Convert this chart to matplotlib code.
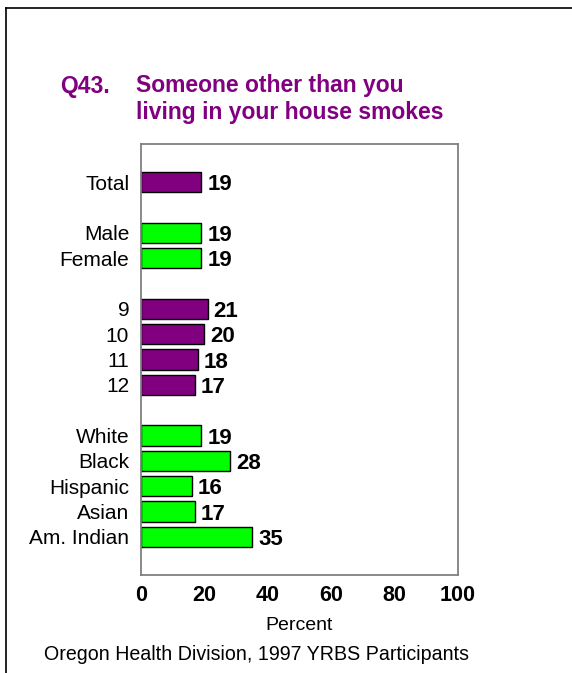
import matplotlib
matplotlib.use("Agg")
import matplotlib.pyplot as plt
from matplotlib.lines import Line2D

plt.rcParams['font.family'] = ['Liberation Sans', 'DejaVu Sans']

# 数据
groups = [
    ["Total"],
    ["Male", "Female"],
    ["9", "10", "11", "12"],
    ["White", "Black", "Hispanic", "Asian", "Am. Indian"],
]
values = [
    [19],
    [19, 19],
    [21, 20, 18, 17],
    [19, 28, 16, 17, 35],
]
group_colors = ["#800080", "#00FF00", "#800080", "#00FF00"]
x_ticks = [0, 20, 40, 60, 80, 100]

title_num = "Q43."
title_text = "Someone other than you\nliving in your house smokes"
footer = "Oregon Health Division, 1997 YRBS Participants"

fig = plt.figure(figsize=(5.72, 6.73), dpi=100)
ax = fig.add_axes([141 / 572, 1 - 575 / 673, 317 / 572, 431 / 673])

# 位置：组之间空一行
pos = 0
ytick_pos, ytick_lab = [], []
for names, vals, col in zip(groups, values, group_colors):
    for name, v in zip(names, vals):
        ax.barh(pos, v, height=0.8, color=col, edgecolor="black", linewidth=1.0)
        ax.text(v + 1.9, pos, str(v), va="center_baseline", ha="left",
                fontsize=16, fontweight="bold")
        ytick_pos.append(pos)
        ytick_lab.append(name)
        pos += 1
    pos += 1

ax.set_ylim(ytick_pos[-1] + 1.5, -1.5)
ax.set_xlim(0, 100)
ax.set_yticks(ytick_pos)
ax.set_yticklabels(ytick_lab, fontsize=15)
ax.set_xticks(x_ticks)
ax.set_xticklabels([str(t) for t in x_ticks], fontsize=15.5, fontweight="bold")
ax.tick_params(axis="y", length=0, pad=8.5)
ax.tick_params(axis="x", length=0, pad=7)
for s in ax.spines.values():
    s.set_color("#808080")
    s.set_linewidth(1.3)
ax.set_xlabel("Percent", fontsize=14, labelpad=8)

# 标题
fig.text(60 / 572, 1 - 86 / 673, title_num, color="#800080", fontsize=16.5,
         fontweight="bold", va="center", ha="left")
fig.text(136 / 572, 1 - 99 / 673, title_text, color="#800080", fontsize=16.5,
         fontweight="bold", va="center", ha="left", linespacing=1.2)

fig.text(44 / 572, 1 - 655 / 673, footer, fontsize=14.1, va="center", ha="left")

# 外框
fig.add_artist(Line2D([6 / 572, 1.0], [1 - 8 / 673] * 2, color="black", lw=1.2,
                      transform=fig.transFigure))
fig.add_artist(Line2D([6 / 572] * 2, [0.0, 1 - 8 / 673], color="black", lw=1.2,
                      transform=fig.transFigure))

fig.savefig("out.png", dpi=100)
